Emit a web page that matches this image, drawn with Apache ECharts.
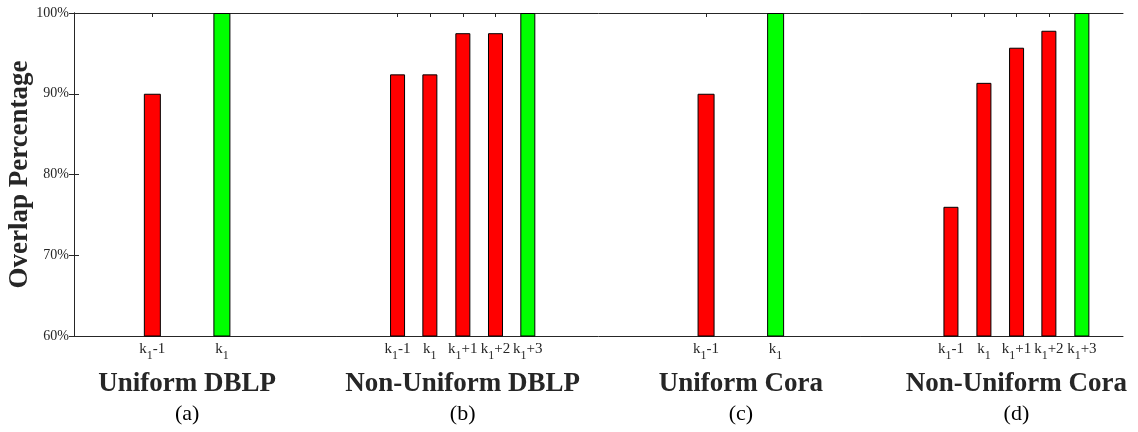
<!DOCTYPE html>
<html>
<head>
<meta charset="utf-8">
<script src="https://cdn.jsdelivr.net/npm/echarts@6/dist/echarts.min.js"></script>
<style>
  html, body { margin: 0; padding: 0; background: #fff; }
  #chart { width: 1138px; height: 432px; }
</style>
</head>
<body>
<div id="chart"></div>
<script>
// bar positions (x units) and overlap values (%) per group
const xUniformDblp = [2.40, 4.53];
const yUniformDblp = [90.0, 100];
const xNonUniformDblp = [9.91, 10.90, 11.91, 12.91, 13.90];
const yNonUniformDblp = [92.4, 92.4, 97.5, 97.5, 100];
const xUniformCora = [19.36, 21.49];
const yUniformCora = [90.0, 100];
const xNonUniformCora = [26.86, 27.87, 28.87, 29.86, 30.87];
const yNonUniformCora = [76.0, 91.35, 95.7, 97.8, 100];

// tick label suffixes after k_1
const uniformSuffix = ['-1', ''];
const nonUniformSuffix = ['-1', '', '+1', '+2', '+3'];

const groupTitles = ['Uniform DBLP', 'Non-Uniform DBLP', 'Uniform Cora', 'Non-Uniform Cora'];
const groupTags = ['(a)', '(b)', '(c)', '(d)'];
const yTicks = [60, 70, 80, 90, 100];

const RED = '#ff0000';
const GREEN = '#00ff00';
const AXIS = '#262626';
const FONT = 'Liberation Serif';

const groups = [
  { x: xUniformDblp, y: yUniformDblp, suf: uniformSuffix },
  { x: xNonUniformDblp, y: yNonUniformDblp, suf: nonUniformSuffix },
  { x: xUniformCora, y: yUniformCora, suf: uniformSuffix },
  { x: xNonUniformCora, y: yNonUniformCora, suf: nonUniformSuffix }
];

const tickPos = [];
const tickText = [];
groups.forEach(g => {
  g.x.forEach((x, i) => {
    tickPos.push(x);
    tickText.push('{k|k}{s|1}' + (g.suf[i] ? '{k|' + g.suf[i] + '}' : ''));
  });
});
const groupCenters = groups.map(g => (g.x[0] + g.x[g.x.length - 1]) / 2);

function barData(list) {
  const out = [];
  list.forEach(g => {
    g.x.forEach((x, i) => {
      out.push({
        value: [x, g.y[i]],
        itemStyle: { color: i === g.x.length - 1 ? GREEN : RED }
      });
    });
  });
  return out;
}

const xRange = { min: 0, max: 32.13 };

const chart = echarts.init(document.getElementById('chart'));
chart.setOption({
  animation: false,
  grid: { left: 74, right: 15, top: 13, bottom: 96, containLabel: false, outerBoundsMode: 'none' },
  xAxis: [
    {
      type: 'value', ...xRange, position: 'bottom',
      splitLine: { show: false },
      axisLine: { show: true, onZero: false, lineStyle: { color: AXIS, width: 1 } },
      axisTick: { show: true, inside: true, length: 4, customValues: tickPos, lineStyle: { color: AXIS } },
      axisLabel: {
        customValues: tickPos,
        margin: 6,
        formatter: v => tickText[tickPos.indexOf(v)] || '',
        rich: {
          k: { fontFamily: FONT, fontSize: 15, color: AXIS, lineHeight: 15, verticalAlign: 'top' },
          s: { fontFamily: FONT, fontSize: 12, color: AXIS, lineHeight: 12, padding: [8, 0, 0, 0], verticalAlign: 'top' }
        }
      }
    },
    {
      type: 'value', ...xRange, show: false
    },
    {
      type: 'value', ...xRange, position: 'top',
      splitLine: { show: false },
      axisLine: { show: true, onZero: false, lineStyle: { color: AXIS, width: 1 } },
      axisTick: { show: true, inside: true, length: 4, customValues: tickPos, lineStyle: { color: AXIS } },
      axisLabel: { show: false }
    },
    {
      type: 'value', ...xRange, position: 'bottom',
      splitLine: { show: false },
      axisLine: { show: false },
      axisTick: { show: false },
      axisLabel: {
        customValues: groupCenters,
        margin: 33,
        formatter: v => {
          const i = groupCenters.indexOf(v);
          return i < 0 ? '' : '{t|' + groupTitles[i] + '}\n{p|' + groupTags[i] + '}';
        },
        rich: {
          t: { fontFamily: FONT, fontSize: 27, fontWeight: 'bold', color: AXIS, lineHeight: 30 },
          p: { fontFamily: FONT, fontSize: 22, color: '#000', lineHeight: 30 }
        }
      }
    }
  ],
  yAxis: [
    {
      type: 'value', min: 60, max: 100, interval: 10, position: 'left',
      name: 'Overlap Percentage',
      nameLocation: 'middle',
      nameGap: 40,
      nameMoveOverlap: false,
      nameTextStyle: { fontFamily: FONT, fontSize: 27, fontWeight: 'bold', color: AXIS },
      splitLine: { show: false },
      axisLine: { show: true, lineStyle: { color: AXIS, width: 1 } },
      axisTick: { show: true, inside: true, length: 5, lineStyle: { color: AXIS } },
      axisLabel: {
        margin: 5,
        fontFamily: FONT, fontSize: 14, color: AXIS,
        formatter: v => (yTicks.indexOf(v) >= 0 ? v + '%' : '')
      }
    },
    {
      type: 'value', min: 60, max: 100, interval: 10, position: 'right',
      splitLine: { show: false },
      axisLine: { show: true, lineStyle: { color: AXIS, width: 1 } },
      axisTick: { show: true, inside: true, length: 5, lineStyle: { color: AXIS } },
      axisLabel: { show: false }
    }
  ],
  series: [
    {
      name: 'uniform',
      type: 'bar',
      xAxisIndex: 0,
      yAxisIndex: 0,
      barWidth: 17,
      itemStyle: { borderColor: '#000', borderWidth: 1 },
      data: barData([groups[0], groups[2]])
    },
    {
      name: 'non-uniform',
      type: 'bar',
      xAxisIndex: 1,
      yAxisIndex: 0,
      barWidth: 15,
      itemStyle: { borderColor: '#000', borderWidth: 1 },
      data: barData([groups[1], groups[3]])
    }
  ]
});
</script>
</body>
</html>
